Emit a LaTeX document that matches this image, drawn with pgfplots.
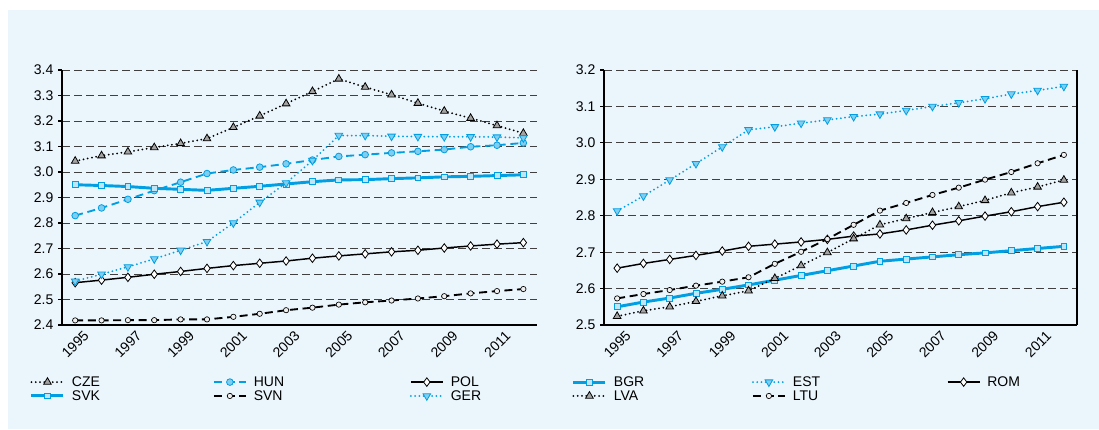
\documentclass[border=0pt]{standalone}
\usepackage{fontspec}
\setmainfont{Liberation Sans}
\usepackage{pgfplots}
\usepackage{pgfplotstable}
\pgfplotsset{compat=1.18}
\definecolor{bgblue}{HTML}{EAF5FC}
\definecolor{lblue}{HTML}{009FE3}
\definecolor{mfill}{HTML}{7FCDEF}
\definecolor{sqfill}{HTML}{BEE6F7}
\definecolor{trigray}{HTML}{A3A3A3}

\pgfplotstableread{
year CZE HUN POL SVK SVN GER
1995 3.043 2.829 2.566 2.950 2.418 2.572
1996 3.064 2.859 2.576 2.947 2.418 2.599
1997 3.079 2.893 2.587 2.943 2.419 2.628
1998 3.096 2.927 2.599 2.936 2.419 2.659
1999 3.112 2.960 2.610 2.932 2.422 2.693
2000 3.131 2.994 2.622 2.928 2.422 2.727
2001 3.175 3.008 2.633 2.936 2.432 2.800
2002 3.220 3.019 2.642 2.944 2.444 2.881
2003 3.268 3.032 2.651 2.953 2.458 2.957
2004 3.316 3.047 2.662 2.962 2.468 3.045
2005 3.365 3.061 2.671 2.969 2.480 3.143
2006 3.333 3.068 2.679 2.970 2.489 3.143
2007 3.303 3.075 2.687 2.974 2.496 3.140
2008 3.270 3.081 2.693 2.977 2.504 3.139
2009 3.239 3.088 2.702 2.981 2.513 3.138
2010 3.211 3.099 2.710 2.983 2.524 3.138
2011 3.182 3.105 2.717 2.986 2.533 3.137
2012 3.152 3.114 2.723 2.989 2.541 3.134
}\leftdata

\pgfplotstableread{
year BGR EST ROM LVA LTU
1995 2.550 2.813 2.656 2.524 2.573
1996 2.563 2.854 2.669 2.539 2.585
1997 2.574 2.898 2.680 2.550 2.596
1998 2.587 2.943 2.691 2.565 2.608
1999 2.598 2.989 2.703 2.580 2.619
2000 2.610 3.036 2.716 2.594 2.631
2001 2.623 3.044 2.722 2.628 2.668
2002 2.636 3.054 2.728 2.663 2.701
2003 2.649 3.063 2.735 2.699 2.736
2004 2.662 3.072 2.744 2.737 2.775
2005 2.675 3.079 2.750 2.775 2.814
2006 2.681 3.089 2.761 2.792 2.835
2007 2.687 3.100 2.774 2.809 2.857
2008 2.693 3.110 2.786 2.825 2.877
2009 2.698 3.121 2.799 2.842 2.899
2010 2.704 3.134 2.811 2.863 2.920
2011 2.710 3.144 2.825 2.879 2.944
2012 2.716 3.155 2.837 2.898 2.967
}\rightdata

\pgfplotsset{
  sCZE/.style={black, line width=1.5pt, dash pattern=on 0pt off 3.2pt, line cap=round,
    mark=triangle*, mark size=3.3pt, mark options={solid, fill=trigray, draw=black, line width=0.6pt, line cap=butt}},
  sHUN/.style={lblue, line width=1.4pt, dash pattern=on 6pt off 3.5pt,
    mark=*, mark size=2.5pt, mark options={solid, fill=mfill, draw=lblue, line width=0.6pt}},
  sPOL/.style={black, line width=1.1pt, solid,
    mark=diamond*, mark size=3.2pt, mark options={solid, fill=white, draw=black, line width=0.6pt}},
  sSVK/.style={lblue, line width=2.2pt, solid,
    mark=square*, mark size=2.2pt, mark options={solid, fill=sqfill, draw=lblue, line width=0.6pt}},
  sSVN/.style={black, line width=1.4pt, dash pattern=on 6pt off 3.5pt,
    mark=*, mark size=2pt, mark options={solid, fill=white!94!black, draw=black, line width=0.5pt}},
  sGER/.style={lblue, line width=1.5pt, dash pattern=on 0pt off 3.2pt, line cap=round,
    mark=triangle*, mark size=3.3pt, mark options={solid, rotate=180, fill=mfill, draw=lblue, line width=0.6pt, line cap=butt}},
  myaxis/.style={
    scale only axis, height=191.25pt, anchor=south west,
    axis x line=bottom, axis y line=left,
    axis line style={line width=1.2pt, -},
    xmin=1994.5, xmax=2012.5,
    xtick={1995,1997,1999,2001,2003,2005,2007,2009,2011},
    xticklabels={1995,1997,1999,2001,2003,2005,2007,2009,2011},
    xtick style={draw=none},
    minor xtick={1994.5,1995.5,1996.5,1997.5,1998.5,1999.5,2000.5,2001.5,2002.5,2003.5,2004.5,2005.5,2006.5,2007.5,2008.5,2009.5,2010.5,2011.5},
    minor x tick style={black, line width=0.8pt},
    minor tick length=3.5pt,
    xticklabel style={rotate=45, anchor=north east, xshift=7pt, yshift=-1pt},
    tick align=outside, major tick length=3pt,
    ytick style={black, line width=0.8pt},
    ymajorgrids,
    grid style={dash pattern=on 6pt off 3pt, black!75, line width=0.75pt},
    yticklabel style={/pgf/number format/.cd, fixed, fixed zerofill, precision=1},
    tick label style={font=\fontsize{10.5}{12}\selectfont},
    /pgf/number format/assume math mode=true,
    clip=false,
    legend columns=3,
    legend cell align=left,
    legend style={draw=none, fill=none, inner sep=0pt, outer sep=0pt,
      column sep=5.25pt, row sep=0.5pt,
      font=\fontsize{10.5}{12}\selectfont, nodes={inner sep=0pt}},
    legend image code/.code={\draw[mark repeat=2,mark phase=2,##1] plot coordinates {(0pt,0pt) (12pt,0pt) (24pt,0pt)};},
  }
}

\begin{document}
\begin{tikzpicture}
\useasboundingbox (0,0) rectangle (824.25pt,321.75pt);
\fill[bgblue] (6pt,0) rectangle (824.25pt,314.25pt);

\begin{axis}[myaxis, at={(46.5pt,78pt)}, width=355.9pt,
  ymin=2.4, ymax=3.4,
  ytick={2.4,2.5,2.6,2.7,2.8,2.9,3.0,3.1,3.2,3.3,3.4},
  legend style={at={(axis description cs:-0.0674,-0.198)}, anchor=north west}]
\addplot[sCZE] table[x=year,y=CZE] {\leftdata};
\addlegendentry{\makebox[100.5pt][l]{\strut CZE}}
\addplot[sHUN] table[x=year,y=HUN] {\leftdata};
\addlegendentry{\makebox[111.75pt][l]{\strut HUN}}
\addplot[sPOL] table[x=year,y=POL] {\leftdata};
\addlegendentry{\strut POL}
\addplot[sSVK] table[x=year,y=SVK] {\leftdata};
\addlegendentry{\makebox[100.5pt][l]{\strut SVK}}
\addplot[sSVN] table[x=year,y=SVN] {\leftdata};
\addlegendentry{\makebox[111.75pt][l]{\strut SVN}}
\addplot[sGER] table[x=year,y=GER] {\leftdata};
\addlegendentry{\strut GER}
\end{axis}

\begin{axis}[myaxis, at={(453pt,78pt)}, width=354.75pt,
  ymin=2.5, ymax=3.2,
  ytick={2.5,2.6,2.7,2.8,2.9,3.0,3.1,3.2},
  legend style={at={(axis description cs:-0.0677,-0.198)}, anchor=north west}]
\draw[line width=1.2pt] (rel axis cs:1,0) -- (rel axis cs:1,1);
\addplot[sSVK] table[x=year,y=BGR] {\rightdata};
\addlegendentry{\makebox[98.25pt][l]{\strut BGR}}
\addplot[sGER] table[x=year,y=EST] {\rightdata};
\addlegendentry{\makebox[110.25pt][l]{\strut EST}}
\addplot[sPOL] table[x=year,y=ROM] {\rightdata};
\addlegendentry{\strut ROM}
\addplot[sCZE] table[x=year,y=LVA] {\rightdata};
\addlegendentry{\makebox[98.25pt][l]{\strut LVA}}
\addplot[sSVN] table[x=year,y=LTU] {\rightdata};
\addlegendentry{\makebox[110.25pt][l]{\strut LTU}}
\end{axis}
\end{tikzpicture}
\end{document}
